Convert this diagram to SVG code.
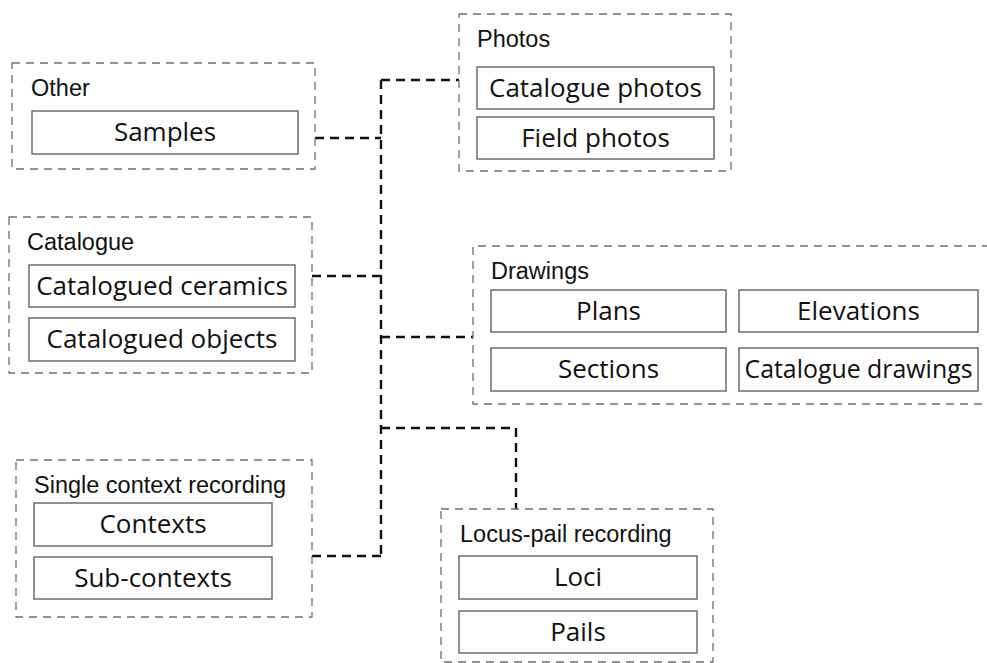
<svg xmlns="http://www.w3.org/2000/svg" width="987" height="663" viewBox="0 0 987 663">
<defs>
<style>
.grp{fill:none;stroke:#6f6f6f;stroke-width:1.3;stroke-dasharray:8 6}
.box{fill:#fff;stroke:#555;stroke-width:1.3}
.hd{font-family:"Liberation Sans",Arial,sans-serif;font-size:23.5px;fill:#111}
.it{font-family:"Open Sans","Noto Sans",sans-serif;font-size:26px;fill:#111;text-anchor:middle}
.con{fill:none;stroke:#111;stroke-width:2.4;stroke-dasharray:9 6}
</style>
</defs>
<rect width="987" height="663" fill="#fff"/>
<g id="connectors">
<path class="con" d="M381 80 V556"/>
<path class="con" d="M381 80 H459"/>
<path class="con" d="M315 138 H381"/>
<path class="con" d="M312 276 H381"/>
<path class="con" d="M381 337 H473"/>
<path class="con" d="M312 556 H381"/>
<path class="con" d="M381 428 H516 V509"/>
</g>
<g id="other">
<rect class="grp" x="12" y="63" width="303" height="106"/>
<text class="hd" x="31" y="96">Other</text>
<rect class="box" x="32" y="111" width="266" height="43"/>
<text class="it" x="165" y="141">Samples</text>
</g>
<g id="photos">
<rect class="grp" x="459" y="14" width="272" height="157"/>
<text class="hd" x="477" y="47">Photos</text>
<rect class="box" x="477" y="67" width="237" height="42"/>
<text class="it" x="595.5" y="97">Catalogue photos</text>
<rect class="box" x="477" y="117" width="237" height="42"/>
<text class="it" x="595.5" y="147">Field photos</text>
</g>
<g id="catalogue">
<rect class="grp" x="9" y="217" width="303" height="156"/>
<text class="hd" x="27" y="250">Catalogue</text>
<rect class="box" x="29" y="265" width="266" height="42"/>
<text class="it" x="162" y="295">Catalogued ceramics</text>
<rect class="box" x="29" y="318" width="266" height="43"/>
<text class="it" x="162" y="348">Catalogued objects</text>
</g>
<g id="drawings">
<path class="grp" d="M990 246 H473 V404 H990"/>
<text class="hd" x="491" y="279">Drawings</text>
<rect class="box" x="491" y="290" width="235" height="42"/>
<text class="it" x="608.5" y="320">Plans</text>
<rect class="box" x="739" y="290" width="239" height="42"/>
<text class="it" x="858.5" y="320">Elevations</text>
<rect class="box" x="491" y="348" width="235" height="43"/>
<text class="it" x="608.5" y="378">Sections</text>
<rect class="box" x="739" y="348" width="239" height="43"/>
<text class="it" x="858.5" y="378" textLength="228" lengthAdjust="spacingAndGlyphs">Catalogue drawings</text>
</g>
<g id="single-context">
<rect class="grp" x="16" y="460" width="296" height="157"/>
<text class="hd" x="34" y="493">Single context recording</text>
<rect class="box" x="34" y="503" width="238" height="43"/>
<text class="it" x="153" y="533">Contexts</text>
<rect class="box" x="34" y="557" width="238" height="42"/>
<text class="it" x="153" y="587">Sub-contexts</text>
</g>
<g id="locus-pail">
<rect class="grp" x="441" y="509" width="272" height="153"/>
<text class="hd" x="460" y="542">Locus-pail recording</text>
<rect class="box" x="459" y="556" width="238" height="43"/>
<text class="it" x="578" y="586">Loci</text>
<rect class="box" x="459" y="611" width="238" height="42"/>
<text class="it" x="578" y="641">Pails</text>
</g>
</svg>
